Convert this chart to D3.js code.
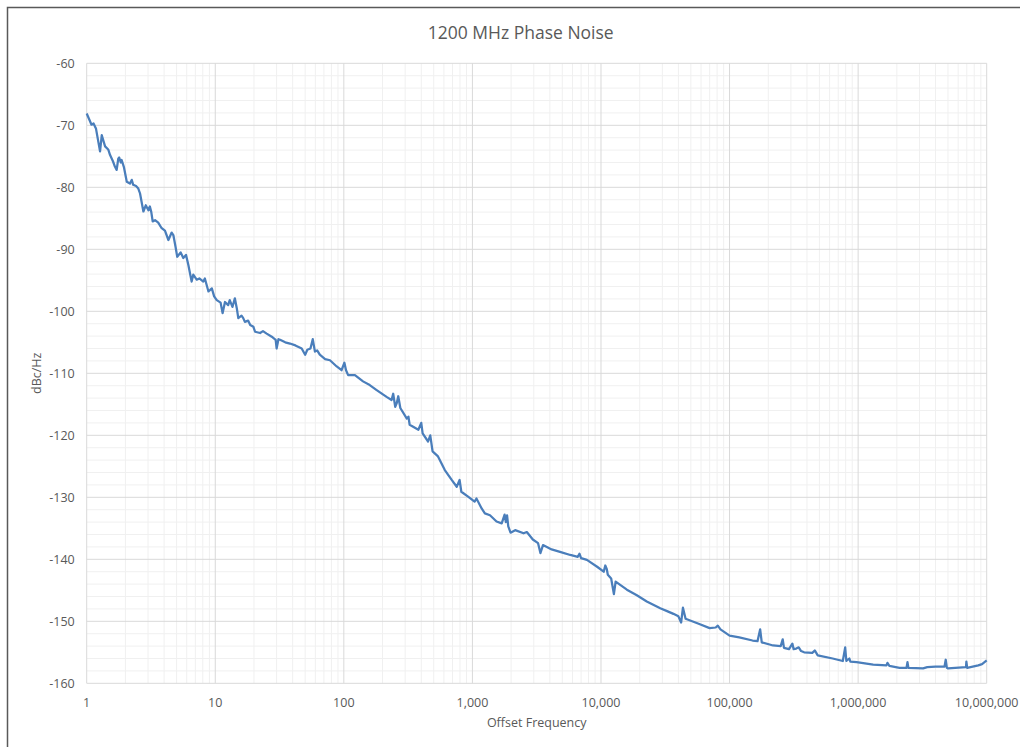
<!DOCTYPE html>
<html>
<head>
<meta charset="utf-8">
<script src="https://cdn.jsdelivr.net/npm/d3@7"></script>
<style>
  body { margin: 0; background: #fff; }
  text { font-family: "Open Sans", "DejaVu Sans", sans-serif; fill: #595959; }
</style>
</head>
<body>
<svg class="viz"></svg>
<script>
var width = 1020,
  height = 747;

var margin = { top: 63.3, right: 33.3, bottom: 63.7, left: 86.7 };

var title = "1200 MHz Phase Noise";
var x_title = "Offset Frequency";
var y_title = "dBc/Hz";

// x ticks (decades) and y ticks
var x_ticks = [1, 10, 100, 1000, 10000, 100000, 1000000, 10000000];
var y_ticks = [-60, -70, -80, -90, -100, -110, -120, -130, -140, -150, -160];

// offset frequency in Hz
var freq = [
  1, 1.09, 1.13, 1.18, 1.23, 1.27, 1.31, 1.39, 1.47, 1.52,
  1.6, 1.66, 1.71, 1.76, 1.79, 1.84, 1.87, 1.95, 2.05, 2.17,
  2.24, 2.3, 2.42, 2.52, 2.6, 2.76, 2.88, 3.02, 3.1, 3.18,
  3.26, 3.4, 3.6, 3.83, 4.06, 4.32, 4.58, 4.72, 4.9, 5.06,
  5.38, 5.64, 5.92, 6.17, 6.55, 6.74, 7.17, 7.52, 8.07, 8.3,
  8.85, 9.4, 9.8, 10.27, 11.0, 11.4, 11.9, 12.6, 12.96, 13.6,
  14.2, 14.7, 15.1, 16.0, 16.5, 17.0, 18.0, 18.7, 19.8, 20.4,
  22.3, 23.5, 25.1, 27.5, 29.5, 30.0, 31.0, 31.9, 35, 38.1,
  42, 47, 50, 52, 55, 57.3, 59.6, 62, 65, 71.5,
  78, 88, 96, 101, 104, 108, 122, 141, 159, 180,
  215, 235, 242, 251, 258, 265, 275, 309, 318, 325,
  380, 400, 410, 452, 470, 490, 540, 610, 690, 755,
  795, 820, 925, 1040, 1075, 1180, 1250, 1370, 1540, 1690,
  1780, 1820, 1860, 1900, 1980, 2150, 2500, 2650, 2950, 3240,
  3380, 3540, 4130, 4800, 5770, 6600, 6800, 7000, 7770, 9330,
  10500, 10800, 11100, 11300, 12000, 12600, 13000, 15900, 19000, 22700,
  28900, 33000, 36600, 40000, 42000, 43400, 45500, 57500, 70000, 78000,
  81000, 85000, 100000, 119000, 151000, 165000, 173000, 178000, 218000, 250000,
  259000, 265000, 290000, 308000, 315000, 330000, 345000, 360000, 380000, 440000,
  460000, 485000, 634000, 760000, 793000, 810000, 855000, 870000, 972000, 1310000,
  1660000, 1690000, 1750000, 2100000, 2380000, 2420000, 2460000, 3200000, 3450000, 4000000,
  4700000, 4800000, 4900000, 5000000, 6900000, 6950000, 7050000, 8600000, 9200000, 10000000
];

// phase noise in dBc/Hz
var noise = [
  -68.1, -69.9, -69.7, -70.5, -72.6, -74.2, -71.6, -73.4, -73.9, -74.8,
  -75.8, -76.7, -77.2, -75.4, -75.2, -76.0, -75.6, -76.8, -79.1, -79.4,
  -78.8, -79.6, -79.8, -80.2, -81.0, -83.9, -82.9, -83.7, -83.1, -84.0,
  -85.5, -85.3, -85.7, -86.6, -87.0, -88.5, -87.3, -87.7, -89.5, -91.2,
  -90.5, -91.4, -90.9, -92.5, -95.2, -94.1, -94.9, -94.7, -95.2, -94.7,
  -96.8, -96.3, -97.6, -98.2, -98.6, -100.3, -98.5, -99.0, -98.2, -99.3,
  -97.9, -99.5, -101.1, -100.7, -101.1, -101.7, -101.5, -102.2, -102.5, -103.3,
  -103.5, -103.2, -103.6, -104.1, -104.6, -106.0, -104.5, -104.6, -105.0, -105.2,
  -105.5, -106.0, -107.0, -106.2, -106.0, -104.5, -106.5, -106.3, -107.0, -107.7,
  -107.9, -108.9, -109.5, -108.3, -109.5, -110.3, -110.3, -111.3, -111.9, -112.7,
  -113.8, -114.3, -113.3, -115.4, -114.8, -113.7, -115.6, -117.3, -117.0, -118.3,
  -119.1, -118.0, -119.7, -121.0, -120.0, -122.6, -123.4, -125.6, -127.2, -128.3,
  -127.2, -129.1, -129.9, -130.7, -130.2, -131.8, -132.6, -132.9, -133.9, -134.2,
  -132.8, -134.0, -132.9, -134.7, -135.7, -135.3, -135.8, -135.6, -136.8, -137.4,
  -139.0, -137.7, -138.4, -138.8, -139.3, -139.6, -139.1, -139.8, -140.1, -141.2,
  -142.0, -141.0, -141.6, -142.5, -143.1, -145.6, -143.6, -144.9, -145.8, -146.8,
  -147.9, -148.4, -148.8, -149.2, -150.2, -147.8, -149.6, -150.4, -151.1, -151.0,
  -150.7, -151.3, -152.3, -152.6, -153.1, -153.2, -151.3, -153.4, -153.9, -154.0,
  -152.9, -154.3, -154.5, -153.6, -154.5, -154.4, -154.2, -154.8, -155.0, -155.1,
  -154.7, -155.5, -156.0, -156.4, -154.2, -156.4, -156.0, -156.5, -156.6, -157.0,
  -157.1, -156.7, -157.2, -157.5, -157.5, -156.6, -157.5, -157.6, -157.4, -157.3,
  -157.3, -156.2, -157.5, -157.6, -157.4, -156.5, -157.5, -157.1, -156.9, -156.3
];

var plot_w = width - margin.left - margin.right,
  plot_h = height - margin.top - margin.bottom;

var svg = d3.select(".viz")
  .attr("width", width)
  .attr("height", height);

// chart frame (only left and top edges are visible in the window)
svg.append("rect")
  .attr("x", 7.5).attr("y", 7.5)
  .attr("width", width + 20).attr("height", height + 20)
  .attr("fill", "#fff")
  .attr("stroke", "#595959")
  .attr("stroke-width", 1.5);

var x = d3.scaleLog().domain([1, 10000000]).range([0, plot_w]);
var y = d3.scaleLinear().domain([-160, -60]).range([plot_h, 0]);

var g = svg.append("g")
  .attr("transform", "translate(" + margin.left + "," + margin.top + ")");

// minor grid
var x_minor = [];
x_ticks.slice(0, -1).forEach(function(d) {
  for (let k = 2; k < 10; k++) x_minor.push(d * k);
});
var y_minor = d3.range(-158, -60, 2).filter(d => d % 10 != 0);

g.selectAll(".xminor").data(x_minor).enter().append("line")
  .attr("x1", d => x(d)).attr("x2", d => x(d))
  .attr("y1", 0).attr("y2", plot_h)
  .attr("stroke", "#f0f0f0");
g.selectAll(".yminor").data(y_minor).enter().append("line")
  .attr("x1", 0).attr("x2", plot_w)
  .attr("y1", d => y(d)).attr("y2", d => y(d))
  .attr("stroke", "#f0f0f0");

// major grid
g.selectAll(".xmajor").data(x_ticks).enter().append("line")
  .attr("x1", d => x(d)).attr("x2", d => x(d))
  .attr("y1", 0).attr("y2", plot_h)
  .attr("stroke", "#d9d9d9");
g.selectAll(".ymajor").data(y_ticks).enter().append("line")
  .attr("x1", 0).attr("x2", plot_w)
  .attr("y1", d => y(d)).attr("y2", d => y(d))
  .attr("stroke", "#d9d9d9");

// tick labels
var fmt = d3.format(",");
g.selectAll(".xlab").data(x_ticks).enter().append("text")
  .attr("x", d => x(d))
  .attr("y", plot_h + 24)
  .attr("text-anchor", "middle")
  .style("font-size", "12.5px")
  .text(d => fmt(d));
g.selectAll(".ylab").data(y_ticks).enter().append("text")
  .attr("x", -12)
  .attr("y", d => y(d) + 4.5)
  .attr("text-anchor", "end")
  .style("font-size", "12.5px")
  .text(d => d);

// the trace
var pts = freq.map((f, i) => [f, noise[i]]);
var line = d3.line()
  .x(d => x(d[0]))
  .y(d => y(d[1]));
g.append("path")
  .datum(pts)
  .attr("d", line)
  .attr("fill", "none")
  .attr("stroke", "#4a7ebb")
  .attr("stroke-width", 2.25)
  .attr("stroke-linejoin", "round");

// titles
svg.append("text")
  .attr("x", margin.left + plot_w / 2 - 16)
  .attr("y", 39)
  .attr("text-anchor", "middle")
  .style("font-size", "17.5px")
  .text(title);
svg.append("text")
  .attr("x", margin.left + plot_w / 2)
  .attr("y", 727)
  .attr("text-anchor", "middle")
  .style("font-size", "12.5px")
  .text(x_title);
svg.append("text")
  .attr("transform", "translate(41," + (margin.top + plot_h / 2) + ") rotate(-90)")
  .attr("text-anchor", "middle")
  .style("font-size", "12.5px")
  .text(y_title);
</script>
</body>
</html>
